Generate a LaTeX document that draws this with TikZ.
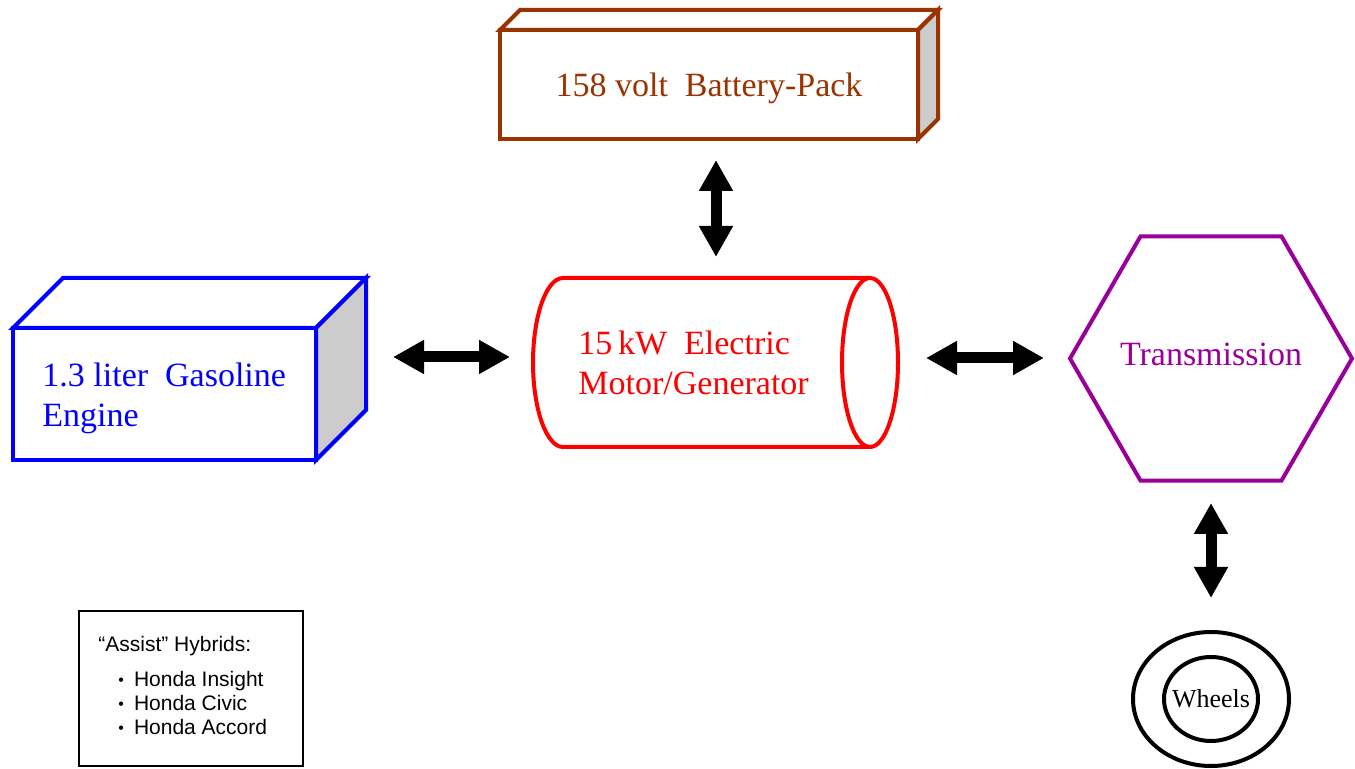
\documentclass[tikz,border=0pt]{standalone}
\usepackage{fontspec}
\setmainfont{Liberation Serif}
\newfontfamily\legendsans{Liberation Sans}
\usetikzlibrary{arrows.meta,shapes.geometric}

\definecolor{battbrown}{RGB}{153,51,0}
\definecolor{engblue}{RGB}{0,0,255}
\definecolor{motred}{RGB}{255,0,0}
\definecolor{transpurple}{RGB}{153,0,153}
\definecolor{sidegray}{RGB}{204,204,204}

\newcommand\bigserif{\fontsize{17}{20}\selectfont}
\newcommand\wheelfont{\fontsize{13}{15}\selectfont}
\newcommand\legendfont{\legendsans\fontsize{10.5}{12}\selectfont}
\newcommand\smallbullet{\hspace*{10pt}{\fontsize{8}{8}\selectfont\raisebox{0.4pt}{•}}\hspace{5pt}}

\tikzset{
  frontface/.style={draw, line width=2pt, fill=white, inner sep=0pt, outer sep=0pt},
  face3d/.style={line width=2pt, line join=miter},
  boxtext/.style={font=\bigserif, align=left, anchor=north west, inner sep=0pt},
  bigarrow/.style={line width=5.5pt, {Triangle[width=16pt,length=15.5pt]}-{Triangle[width=16pt,length=15.5pt]}},
  ring/.style={draw, ellipse, line width=2pt, inner sep=0pt, outer sep=0pt},
}

\begin{document}
\begin{tikzpicture}[x=0.5pt, y=-0.5pt]
            \useasboundingbox (0,0) rectangle (1355,769);

            % Define nodes
            \node[frontface, draw=battbrown, minimum width=209pt, minimum height=54.5pt, text=battbrown, font=\bigserif, text height=12.5pt, text depth=0pt] (battery) at (709,84.5) {158 volt~ Battery-Pack};
            \node[frontface, draw=engblue, minimum width=151.5pt, minimum height=66pt] (engine) at (164.5,394) {};
            \node[boxtext, text=engblue] (enginetext) at (42,363) {1.3 liter~ Gasoline\\Engine};
            \node[boxtext, text=motred] (motor) at (578,331) {15\,kW~ Electric\\Motor/Generator};
            \node[draw=transpurple, regular polygon, regular polygon sides=6, line width=2pt, minimum size=141pt, inner sep=0pt, outer sep=0pt] (transmission) at (1211,358.5) {};
            \node[text=transpurple, font=\bigserif, text height=7.5pt, text depth=0pt, inner sep=0pt] (transtext) at (transmission.center) {Transmission};
            \node[ring, minimum width=78pt, minimum height=67pt] (wheels) at (1211,699) {};
            \node[ring, minimum width=47pt, minimum height=42pt] (hub) at (wheels.center) {};
            \node[font=\wheelfont] (wheelname) at (hub.center) {Wheels};
            \node[draw, line width=1pt, minimum width=112pt, minimum height=77.5pt] (assist) at (191,688.5) {};
            \node[font=\legendfont, align=left, anchor=north west, inner sep=0pt] (assistlist) at (98,636) {“Assist” Hybrids:\\[5.5pt]\smallbullet Honda Insight\\\smallbullet Honda Civic\\\smallbullet Honda Accord};

            % Draw box sides
            \draw[face3d, draw=battbrown, fill=white] (battery.north west) -- ++(20,-20) -- ([shift={(20,-20)}]battery.north east) -- (battery.north east) -- cycle;
            \draw[face3d, draw=battbrown, fill=sidegray] (battery.north east) -- ++(20,-20) -- ([shift={(20,-20)}]battery.south east) -- (battery.south east) -- cycle;
            \draw[face3d, draw=engblue, fill=white] (engine.north west) -- ++(50,-50) -- ([shift={(50,-50)}]engine.north east) -- (engine.north east) -- cycle;
            \draw[face3d, draw=engblue, fill=sidegray] (engine.north east) -- ++(50,-50) -- ([shift={(50,-50)}]engine.south east) -- (engine.south east) -- cycle;

            % Draw cylinder
            \draw[motred, line width=2pt] (870,278) -- (563,278) arc[start angle=90, end angle=270, x radius=15pt, y radius=42.25pt] -- (870,447);
            \draw[motred, line width=2pt] (870,362.5) ellipse [x radius=14pt, y radius=42.25pt];

            % Draw edges
            \coordinate (batdown) at (716,160);
            \coordinate (motup) at (716,257);
            \coordinate (engright) at (393,357);
            \coordinate (motleft) at (510,357);
            \coordinate (motright) at (926,358);
            \coordinate (transleft) at (1044,358);
            \coordinate (transdown) at (1211,503);
            \coordinate (wheelup) at (1211,598);
            \draw[bigarrow] (batdown) -- (motup);
            \draw[bigarrow] (engright) -- (motleft);
            \draw[bigarrow] (motright) -- (transleft);
            \draw[bigarrow] (transdown) -- (wheelup);

        \end{tikzpicture}
\end{document}
